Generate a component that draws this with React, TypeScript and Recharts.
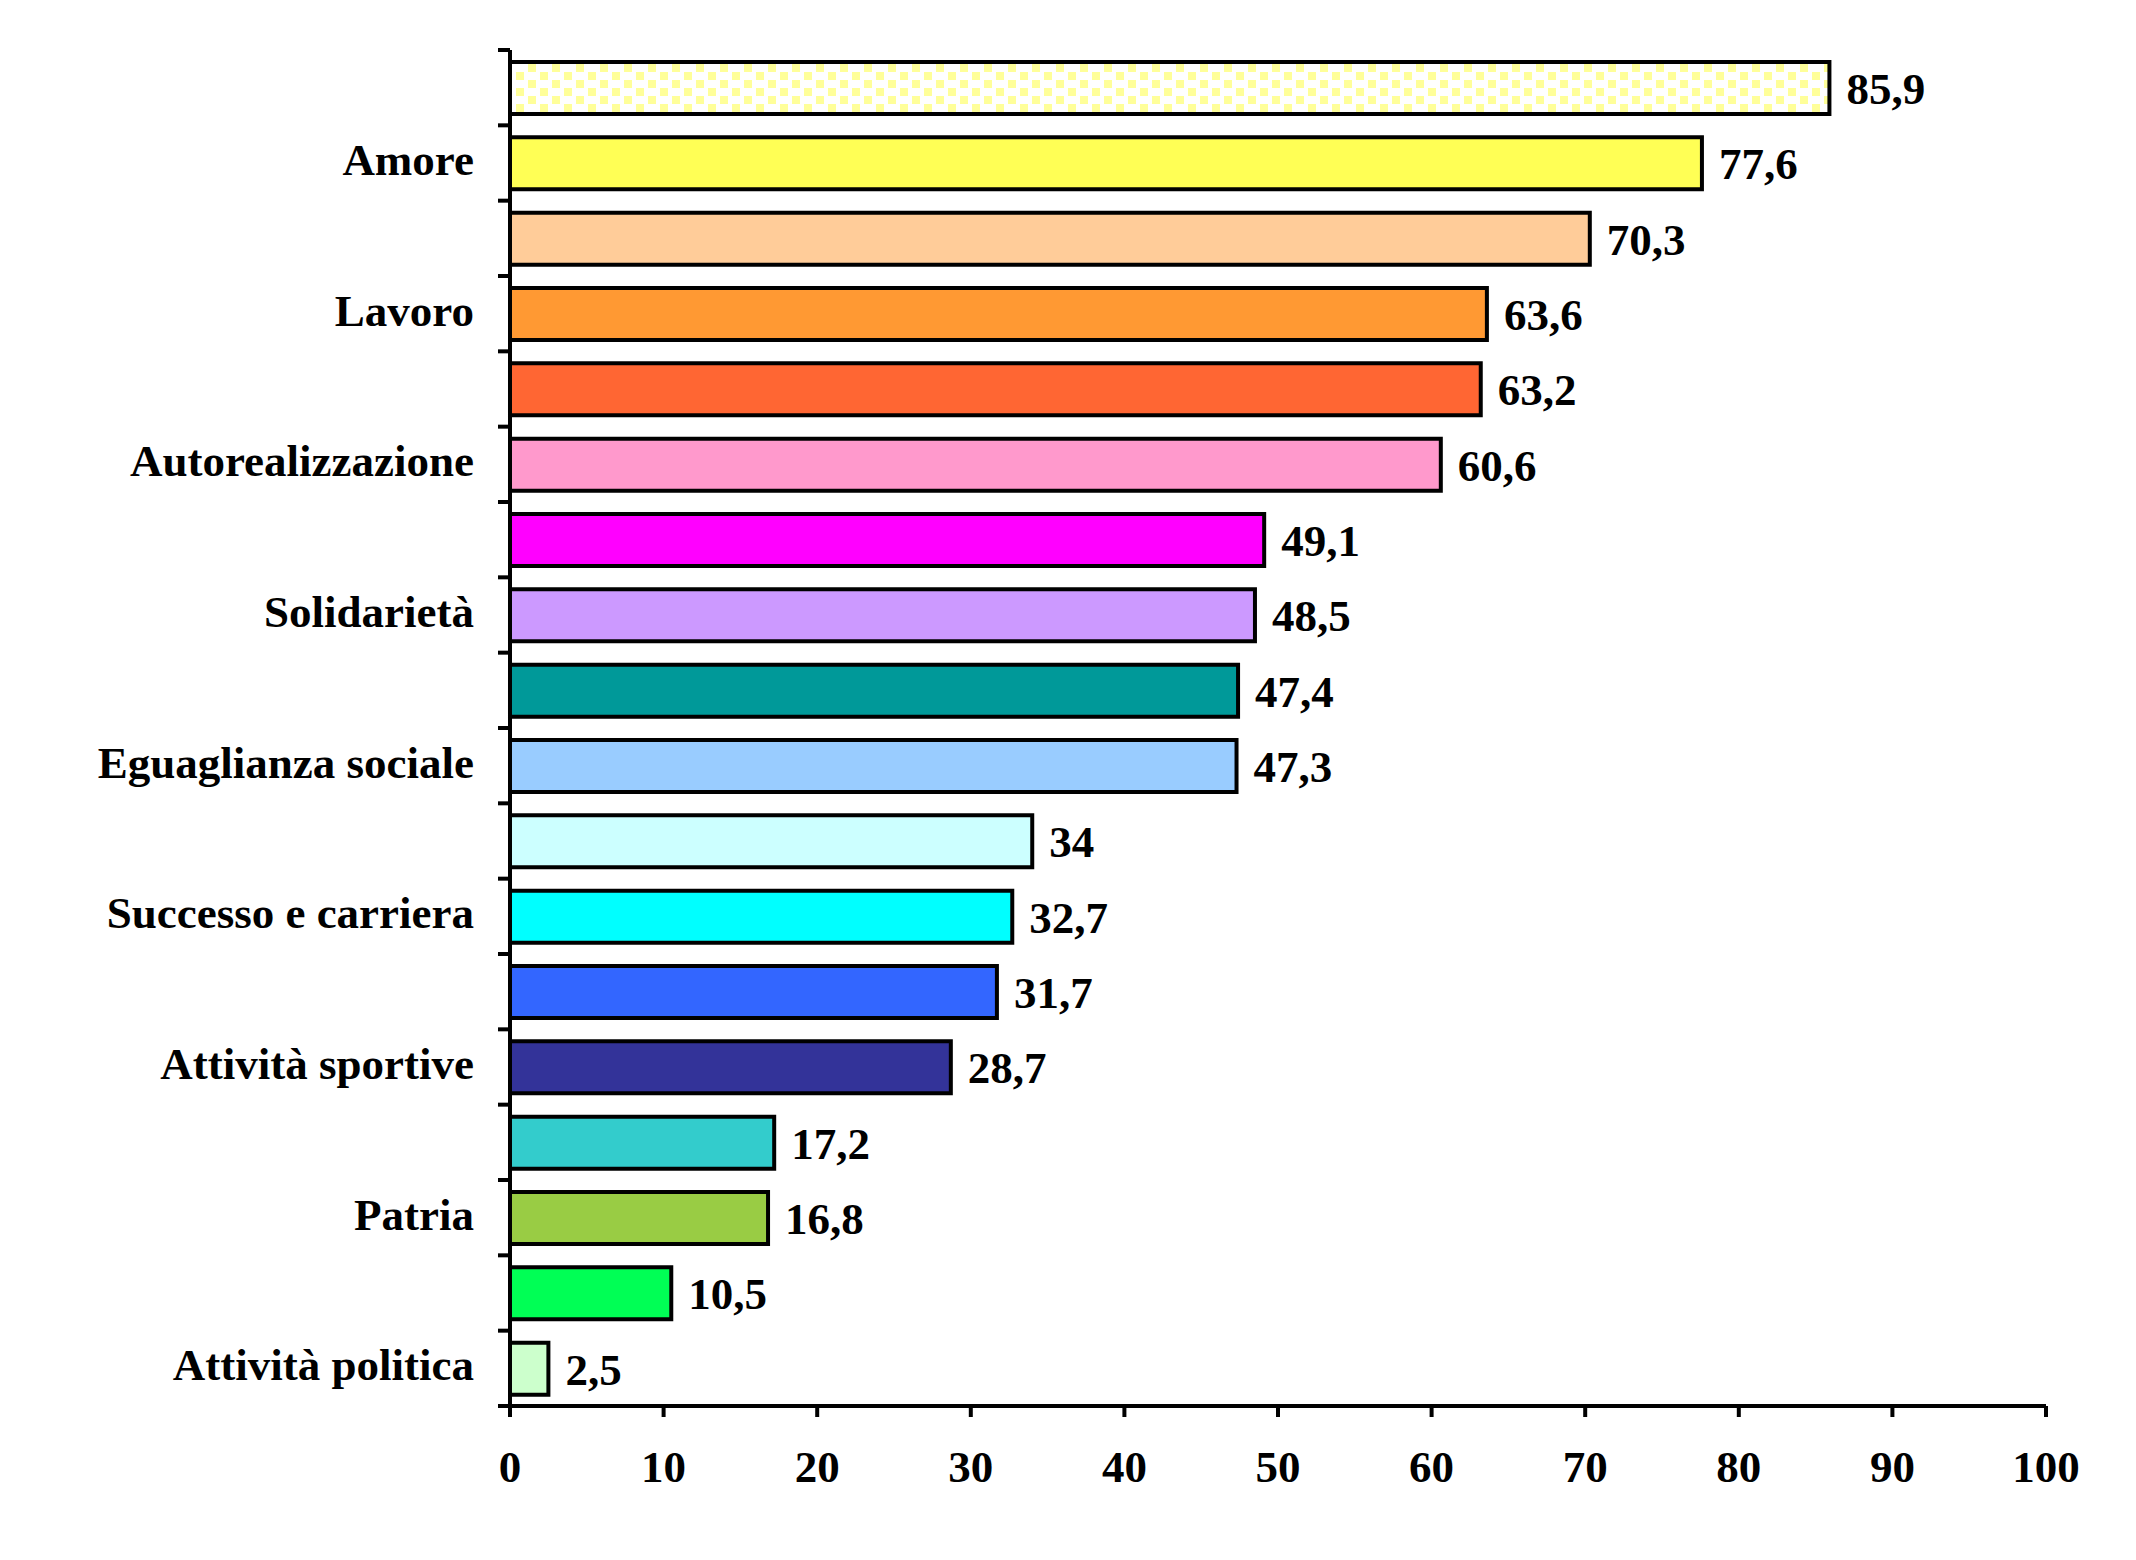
import { BarChart, Bar, XAxis, YAxis, Cell, LabelList } from 'recharts'

// category labels (Excel only printed every other one)
const categories = [
  '', 'Amore', '', 'Lavoro', '', 'Autorealizzazione', '', 'Solidarietà', '',
  'Eguaglianza sociale', '', 'Successo e carriera', '', 'Attività sportive', '',
  'Patria', '', 'Attività politica',
]
const values = [85.9, 77.6, 70.3, 63.6, 63.2, 60.6, 49.1, 48.5, 47.4, 47.3, 34, 32.7, 31.7, 28.7, 17.2, 16.8, 10.5, 2.5]
const colors = [
  'url(#dither)', '#FFFF55', '#FFCC99', '#FF9933', '#FF6633', '#FF99CC', '#FF00FF', '#CC99FF', '#009999',
  '#99CCFF', '#CCFFFF', '#00FFFF', '#3366FF', '#333399', '#33CCCC', '#99CC44', '#00FF55', '#CCFFCC',
]
const xTicks = [0, 10, 20, 30, 40, 50, 60, 70, 80, 90, 100]

const data = categories.map((name, i) => ({ name, value: values[i] }))

const font = { fontFamily: '"Liberation Serif", "Times New Roman", serif', fontWeight: 700, fontSize: 45, fill: '#000' }
const axisStroke = { stroke: '#000', strokeWidth: 4 }

// Excel puts the category tick marks between the bars, not on them
function CategoryTick({ x, y, payload, index }: any) {
  const half = payload.offset ?? 0
  return (
    <g>
      <line x1={x - 12} x2={x} y1={y - half} y2={y - half} stroke="#000" strokeWidth={4} />
      {index === categories.length - 1 && (
        <line x1={x - 12} x2={x} y1={y + half} y2={y + half} stroke="#000" strokeWidth={4} />
      )}
      {payload.value && (
        <text x={x - 36} y={y} dy={12} textAnchor="end" style={font}>
          {payload.value}
        </text>
      )}
    </g>
  )
}

export default function App() {
  return (
    <div style={{ position: 'absolute', left: 0, top: 0, background: '#fff' }}>
      <BarChart
        width={2136}
        height={1560}
        data={data}
        layout="vertical"
        margin={{ top: 50, right: 90, bottom: 0, left: 10 }}
      >
        <defs>
          <pattern id="dither" width="24" height="16" patternUnits="userSpaceOnUse">
            <rect width="24" height="16" fill="#fff" />
            <rect x="0" y="0" width="8" height="8" fill="#FFFF99" />
            <rect x="12" y="8" width="8" height="8" fill="#FFFF99" />
          </pattern>
        </defs>
        <XAxis
          type="number"
          domain={[0, 100]}
          ticks={xTicks}
          interval={0}
          height={154}
          tickSize={11}
          tickMargin={33}
          axisLine={axisStroke}
          tickLine={axisStroke}
          tick={font}
        />
        <YAxis
          type="category"
          dataKey="name"
          width={500}
          interval={0}
          tickSize={0}
          tickMargin={0}
          axisLine={axisStroke}
          tickLine={false}
          tick={<CategoryTick />}
        />
        <Bar dataKey="value" barSize={52} stroke="#000" strokeWidth={4} isAnimationActive={false}>
          {data.map((_, i) => (
            <Cell key={i} fill={colors[i]} />
          ))}
          <LabelList
            dataKey="value"
            position="right"
            offset={17}
            formatter={(v: number) => String(v).replace('.', ',')}
            style={font}
          />
        </Bar>
      </BarChart>
    </div>
  )
}
